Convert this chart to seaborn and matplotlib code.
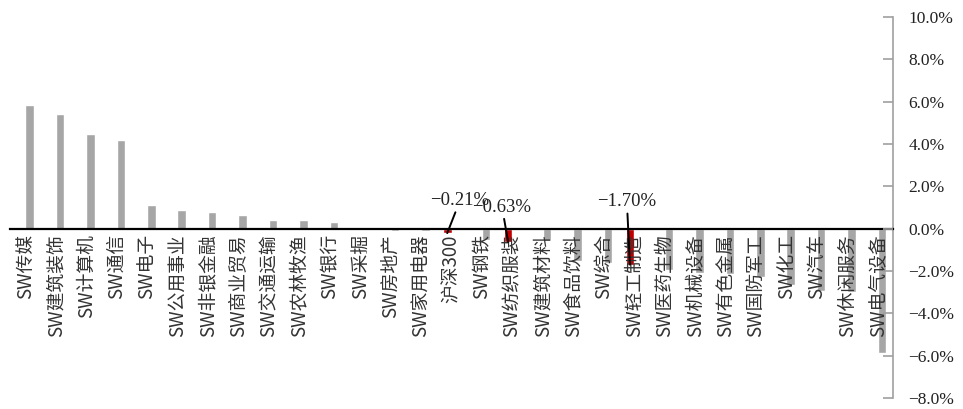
import numpy as np
import pandas as pd
import matplotlib
matplotlib.use("Agg")
import matplotlib.pyplot as plt
import seaborn as sns

# 行业周涨跌幅（%）
categories = [
    "SW传媒", "SW建筑装饰", "SW计算机", "SW通信", "SW电子", "SW公用事业",
    "SW非银金融", "SW商业贸易", "SW交通运输", "SW农林牧渔", "SW银行", "SW采掘",
    "SW房地产", "SW家用电器", "沪深300", "SW钢铁", "SW纺织服装", "SW建筑材料",
    "SW食品饮料", "SW综合", "SW轻工制造", "SW医药生物", "SW机械设备",
    "SW有色金属", "SW国防军工", "SW化工", "SW汽车", "SW休闲服务", "SW电气设备",
]
returns = [
    5.82, 5.42, 4.45, 4.21, 1.14, 0.86,
    0.81, 0.64, 0.43, 0.39, 0.33, 0.01,
    -0.09, -0.10, -0.21, -0.55, -0.63, -0.56,
    -1.52, -1.60, -1.70, -1.95, -2.10,
    -2.13, -2.29, -2.65, -2.96, -3.00, -5.86,
]
highlight = ["沪深300", "SW纺织服装", "SW轻工制造"]
yticks = [-8, -6, -4, -2, 0, 2, 4, 6, 8, 10]

GRAY = "#A6A6A6"
RED = "#C00000"
AXIS_GRAY = "#A0A0A0"
TEXT = "#222222"
NUM_FONT = "Liberation Serif"

sns.set_theme(style="white")
plt.rcParams["font.family"] = ["Noto Sans CJK SC", "DejaVu Sans"]
plt.rcParams["axes.unicode_minus"] = True

df = pd.DataFrame({"行业": categories, "涨跌幅": returns})
df["组"] = np.where(df["行业"].isin(highlight), "重点", "行业")

fig = plt.figure(figsize=(9.63, 4.09), dpi=100)
ax = fig.add_axes([10 / 963, 1 - 398 / 409, (893 - 10) / 963, (398 - 17) / 409])

sns.barplot(
    data=df, x="行业", y="涨跌幅", hue="组", order=categories,
    hue_order=["重点", "行业"], palette={"重点": RED, "行业": GRAY},
    dodge=True, width=0.56, saturation=1, errorbar=None, legend=False, ax=ax,
)
# 坐标轴及类别标签绘制在柱子之上
ax.set_axisbelow(False)

ax.set_xlim(-0.5, len(categories) - 0.5)
ax.set_ylim(yticks[0], yticks[-1])
ax.set_xlabel("")
ax.set_ylabel("")

# 右侧纵轴
for side in ("left", "top"):
    ax.spines[side].set_visible(False)
ax.spines["right"].set_color(AXIS_GRAY)
ax.spines["right"].set_linewidth(1.2)
ax.yaxis.tick_right()
ax.set_yticks(yticks)
ax.set_yticklabels([f"{t:.1f}%".replace("-", "\u2212") for t in yticks])
ax.tick_params(axis="y", direction="in", length=7, width=1.2, color=AXIS_GRAY,
               pad=11, labelsize=12.5, labelcolor=TEXT)
for lab in ax.get_yticklabels():
    lab.set_fontfamily(NUM_FONT)

# 横轴置于零线，类别间刻度
ax.spines["bottom"].set_position(("data", 0))
ax.spines["bottom"].set_color("black")
ax.spines["bottom"].set_linewidth(1.6)
ax.set_xticks(np.arange(len(categories)))
ax.set_xticks(np.arange(len(categories) + 1) - 0.5, minor=True)
ax.tick_params(axis="x", which="major", length=0, pad=4, labelsize=13.5,
               labelrotation=90, labelcolor="#333333")
ax.tick_params(axis="x", which="minor", direction="in", length=7, width=1.4,
               color="black")
ax.grid(False)

# 重点标签及引线
bar_offset = -0.14
label_shift = {"沪深300": (0.42, 1.33), "SW纺织服装": (-0.20, 1.02),
               "SW轻工制造": (-0.10, 1.27)}
for name in highlight:
    i = categories.index(name)
    v = returns[i]
    bx = i + bar_offset
    dx, ty = label_shift[name]
    ax.annotate(
        f"{v:.2f}%".replace("-", "\u2212"), xy=(bx, v), xytext=(bx + dx, ty),
        ha="center", va="center", fontsize=13.5, family=NUM_FONT,
        color=TEXT,
        arrowprops=dict(arrowstyle="-", color="black", lw=1.4,
                        shrinkA=0, shrinkB=0),
    )

fig.savefig("out.png", dpi=100)
